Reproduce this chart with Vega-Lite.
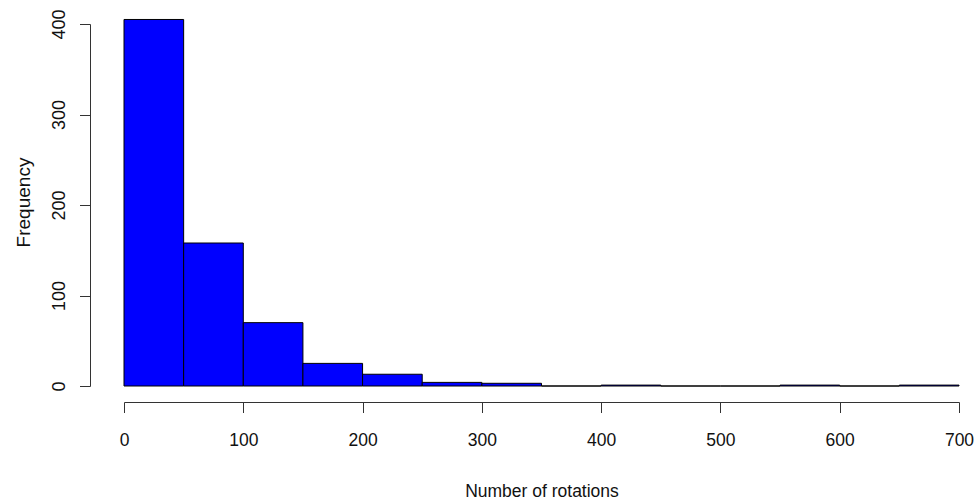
{
  "$schema": "https://vega.github.io/schema/vega-lite/v6.json",
  "width": 835,
  "height": 362,
  "autosize": "none",
  "padding": {"left": 124, "top": 24, "right": 16, "bottom": 117},
  "background": "white",
  "config": {
    "view": {"stroke": null},
    "axis": {
      "grid": false,
      "domainColor": "#333333",
      "tickColor": "#333333",
      "domainWidth": 1,
      "tickWidth": 1,
      "tickSize": 10.5,
      "labelColor": "#111111",
      "titleColor": "#111111",
      "titleFontWeight": "normal"
    }
  },
  "data": {
    "values": [
      {"bin_start": 0, "bin_end": 50, "count": 405},
      {"bin_start": 50, "bin_end": 100, "count": 158},
      {"bin_start": 100, "bin_end": 150, "count": 70},
      {"bin_start": 150, "bin_end": 200, "count": 25},
      {"bin_start": 200, "bin_end": 250, "count": 13},
      {"bin_start": 250, "bin_end": 300, "count": 4},
      {"bin_start": 300, "bin_end": 350, "count": 3},
      {"bin_start": 350, "bin_end": 400, "count": 0},
      {"bin_start": 400, "bin_end": 450, "count": 1},
      {"bin_start": 450, "bin_end": 500, "count": 0},
      {"bin_start": 500, "bin_end": 550, "count": 0},
      {"bin_start": 550, "bin_end": 600, "count": 1},
      {"bin_start": 600, "bin_end": 650, "count": 0},
      {"bin_start": 650, "bin_end": 700, "count": 1}
    ]
  },
  "mark": {"type": "rect", "fill": "#0000FF", "stroke": "#000000", "strokeWidth": 1, "clip": false},
  "encoding": {
    "x": {
      "field": "bin_start",
      "type": "quantitative",
      "scale": {"domain": [0, 700], "nice": false, "zero": false},
      "axis": {
        "title": "Number of rotations",
        "values": [0, 100, 200, 300, 400, 500, 600, 700],
        "offset": 16,
        "labelFont": "Liberation Sans",
        "labelFontSize": 17.5,
        "labelPadding": 19,
        "labelBaseline": "top",
        "labelFlush": false,
        "labelOverlap": false,
        "titleFont": "Liberation Sans",
        "titleFontSize": 17.5,
        "titleBaseline": "alphabetic",
        "titleY": 94.5
      }
    },
    "x2": {"field": "bin_end"},
    "y": {
      "field": "count",
      "type": "quantitative",
      "scale": {"domain": [0, 400], "nice": false},
      "axis": {
        "title": "Frequency",
        "values": [0, 100, 200, 300, 400],
        "offset": 34,
        "labelAngle": -90,
        "labelAlign": "center",
        "labelBaseline": "alphabetic",
        "labelFont": "Liberation Sans",
        "labelFontSize": 18,
        "labelPadding": 15,
        "labelFlush": false,
        "labelOverlap": false,
        "titleFont": "Liberation Sans",
        "titleFontSize": 19,
        "titleAngle": -90,
        "titleAlign": "center",
        "titleBaseline": "alphabetic",
        "titleX": -61,
        "titleY": 178
      }
    },
    "y2": {"datum": 0}
  }
}
